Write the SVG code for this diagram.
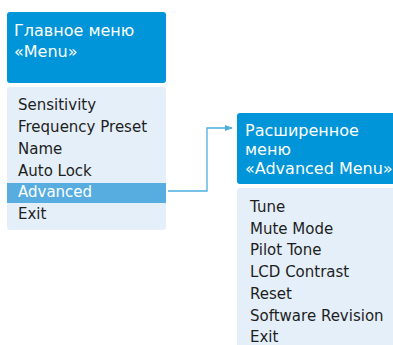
<svg xmlns="http://www.w3.org/2000/svg" width="393" height="345" viewBox="0 0 393 345">
<style>
.hdr{fill:#0095d9}
.body{fill:#e4eff9}
.ht{font-family:"DejaVu Sans",sans-serif;font-size:16px;fill:#ffffff}
.it{font-family:"DejaVu Sans",sans-serif;font-size:15px;fill:#1e1e1e}
.con{fill:none;stroke:#4aaee0;stroke-width:1.3}
</style>
<defs>
<marker id="ah" markerWidth="8" markerHeight="6" refX="7" refY="3" orient="auto" markerUnits="userSpaceOnUse">
<path d="M0,0 L8,3 L0,6 Z" fill="#4aaee0"/>
</marker>
</defs>
<rect width="393" height="345" fill="#ffffff"/>
<g id="main-menu">
<rect class="hdr" x="7" y="12" width="159" height="71" rx="3"/>
<text class="ht" x="14" y="36">Главное меню</text>
<text class="ht" x="14" y="57">«Menu»</text>
<rect class="body" x="7" y="87" width="159" height="143" rx="3"/>
<rect x="7" y="183" width="159" height="20" fill="#57ade0"/>
<text class="it" x="18" y="110">Sensitivity</text>
<text class="it" x="18" y="132">Frequency Preset</text>
<text class="it" x="18" y="154">Name</text>
<text class="it" x="18" y="176">Auto Lock</text>
<text class="it" x="18" y="197" style="fill:#ffffff">Advanced</text>
<text class="it" x="18" y="219">Exit</text>
</g>
<g id="advanced-menu">
<rect class="hdr" x="237" y="113" width="162" height="71" rx="3"/>
<text class="ht" x="245" y="136">Расширенное</text>
<text class="ht" x="245" y="155">меню</text>
<text class="ht" x="245" y="174">«Advanced Menu»</text>
<rect class="body" x="237" y="188" width="162" height="162" rx="3"/>
<text class="it" x="250" y="212">Tune</text>
<text class="it" x="250" y="234">Mute Mode</text>
<text class="it" x="250" y="255">Pilot Tone</text>
<text class="it" x="250" y="277">LCD Contrast</text>
<text class="it" x="250" y="299">Reset</text>
<text class="it" x="250" y="321">Software Revision</text>
<text class="it" x="250" y="342">Exit</text>
</g>
<g id="connectors">
<path class="con" d="M168,191 H207 V128 H232" marker-end="url(#ah)"/>
</g>
</svg>
